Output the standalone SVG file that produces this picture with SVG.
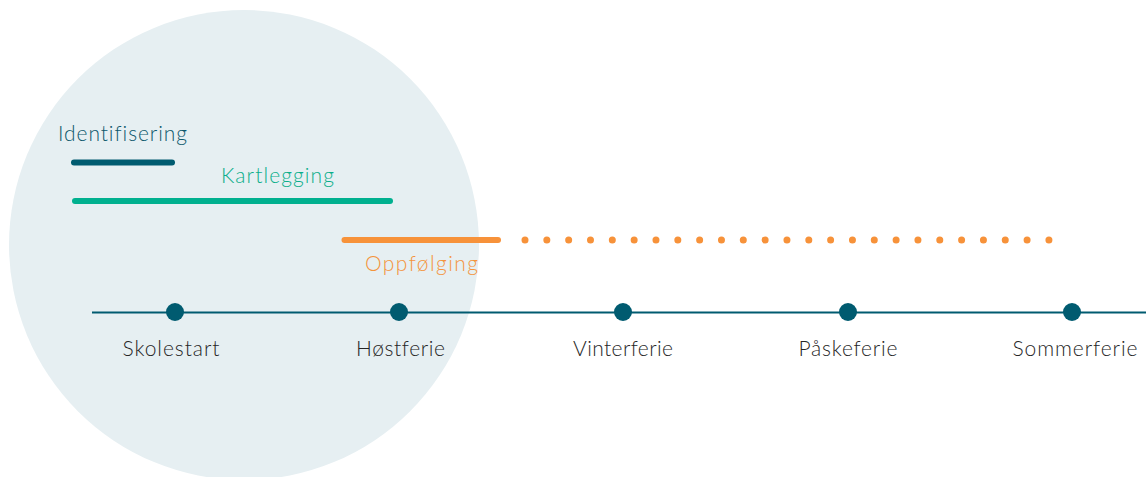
<svg xmlns="http://www.w3.org/2000/svg" width="1146" height="477" viewBox="0 0 1146 477">
<style>
text{font-family:Lato,"Open Sans","Liberation Sans",sans-serif;font-size:21px;font-weight:300;font-variant-ligatures:none;font-feature-settings:"liga" 0}
.lbl{fill:#262626;text-anchor:middle}
.bar{stroke-width:6;stroke-linecap:round;fill:none}
.dot{fill:#005b70}
</style>
<rect width="1146" height="477" fill="#ffffff"/>
<circle cx="244" cy="245" r="235" fill="#e6eff2"/>
<g id="connectors">
<line x1="92" y1="312.5" x2="1146" y2="312.5" stroke="#005b70" stroke-width="2"/>
</g>
<g id="identifisering">
<text x="58" y="141" fill="#0c586c" textLength="129" lengthAdjust="spacing">Identifisering</text>
<line class="bar" x1="74" y1="162.5" x2="172" y2="162.5" stroke="#005b70"/>
</g>
<g id="kartlegging">
<text x="221" y="183" fill="#0aae8a" textLength="113" lengthAdjust="spacing">Kartlegging</text>
<line class="bar" x1="75" y1="201" x2="390" y2="201" stroke="#00b08f"/>
</g>
<g id="oppfolging">
<line class="bar" x1="344.5" y1="240" x2="498" y2="240" stroke="#f7923a"/>
<line x1="525" y1="240" x2="1050" y2="240" stroke="#f7923a" stroke-width="7" stroke-linecap="round" stroke-dasharray="0 21.83"/>
<text x="365" y="271" fill="#f4943c" textLength="113" lengthAdjust="spacing">Oppfølging</text>
</g>
<g id="skolestart">
<circle class="dot" cx="175" cy="312" r="9"/>
<text class="lbl" x="171" y="356" textLength="97" lengthAdjust="spacing">Skolestart</text>
</g>
<g id="hostferie">
<circle class="dot" cx="399" cy="312" r="9"/>
<text class="lbl" x="400.5" y="356" textLength="89" lengthAdjust="spacing">Høstferie</text>
</g>
<g id="vinterferie">
<circle class="dot" cx="623" cy="312" r="9"/>
<text class="lbl" x="623" y="356" textLength="100" lengthAdjust="spacing">Vinterferie</text>
</g>
<g id="paskeferie">
<circle class="dot" cx="848" cy="312" r="9"/>
<text class="lbl" x="848" y="356" textLength="99" lengthAdjust="spacing">Påskeferie</text>
</g>
<g id="sommerferie">
<circle class="dot" cx="1072" cy="312" r="9"/>
<text class="lbl" x="1075" y="356" textLength="125" lengthAdjust="spacing">Sommerferie</text>
</g>
</svg>
